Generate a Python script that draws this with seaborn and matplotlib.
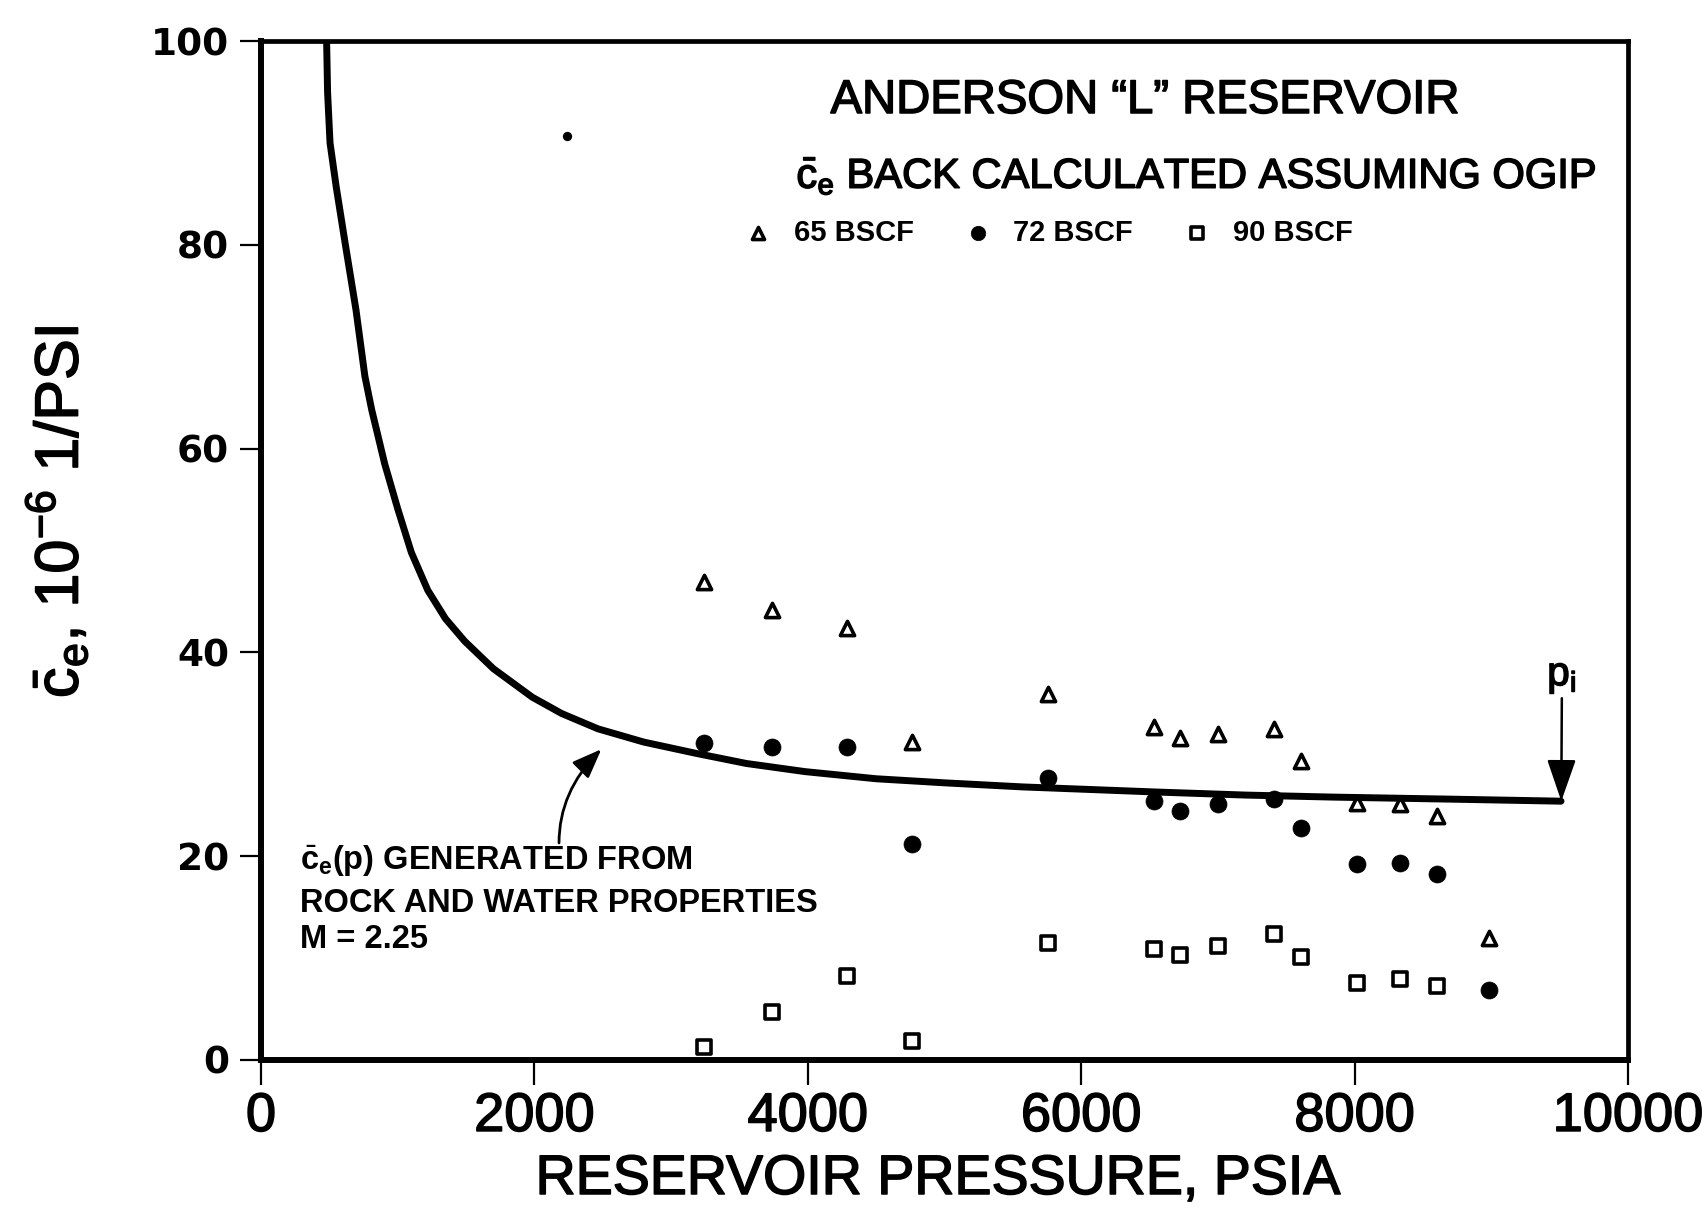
import numpy as np
import pandas as pd
import matplotlib
matplotlib.use("Agg")
import matplotlib.pyplot as plt
import matplotlib.patheffects as pe
import seaborn as sns

# ---------------- data ----------------
pressure = [3240, 3740, 4290, 4760, 5760, 6535, 6720, 7000, 7410, 7605, 8015, 8335, 8600, 8980]
ce_65 = [46.9, 44.2, 42.4, 31.2, 35.9, 32.7, 31.6, 32.0, 32.5, 29.3, 25.2, 25.1, 23.9, 12.0]
ce_72 = [31.1, 30.7, 30.7, 21.2, 27.7, 25.4, 24.4, 25.1, 25.6, 22.8, 19.2, 19.3, 18.3, 6.9]
pressure_90 = [3240, 3740, 4290, 4760, 5760, 6535, 6720, 7000, 7410, 7605, 8015, 8335, 8600]
ce_90 = [1.3, 4.7, 8.2, 1.9, 11.5, 10.9, 10.3, 11.2, 12.4, 10.1, 7.6, 7.9, 7.3]

curve_p = [480, 487, 505, 550, 615, 695, 760, 810, 905, 1000, 1100, 1220, 1350,
           1490, 1700, 1985, 2200, 2465, 2800, 3180, 3550, 3980, 4500, 5000,
           5570, 6545, 7200, 7840, 8700, 9510]
curve_ce = [100, 95.0, 90.0, 85.7, 80.2, 73.6, 67.1, 63.8, 58.5, 54.1, 49.8, 46.1, 43.3,
            41.1, 38.4, 35.6, 34.0, 32.5, 31.2, 30.1, 29.1, 28.3, 27.6, 27.2,
            26.8, 26.3, 26.0, 25.8, 25.6, 25.4]

stray_p = [2240]
stray_ce = [90.7]

series_labels = ["65 BSCF", "72 BSCF", "90 BSCF"]
x_ticks = [0, 2000, 4000, 6000, 8000, 10000]
y_ticks = [0, 20, 40, 60, 80, 100]

# ---------------- style ----------------
sns.set_theme(style="ticks")
plt.rcParams["font.family"] = ["Liberation Sans", "DejaVu Sans"]
plt.rcParams["text.color"] = "black"
plt.rcParams["axes.labelcolor"] = "black"
plt.rcParams["mathtext.fontset"] = "custom"
plt.rcParams["mathtext.rm"] = "Liberation Sans"
plt.rcParams["mathtext.it"] = "Liberation Sans:italic"
plt.rcParams["mathtext.bf"] = "Liberation Sans:bold"

heavy = [pe.withStroke(linewidth=1.1, foreground="black")]

fig = plt.figure(figsize=(17.02, 12.19), dpi=100)
fig.patch.set_facecolor("white")
W, H = 1702.0, 1219.0
ax = fig.add_axes([261 / W, 1 - 1060 / H, (1628 - 261) / W, (1060 - 41) / H])
ax.set_facecolor("white")

# curve
sns.lineplot(x=curve_p, y=curve_ce, sort=False, estimator=None, color="black",
             linewidth=5, ax=ax, zorder=4)

# data series
sns.scatterplot(x=pressure, y=ce_65, marker="^", s=105, facecolor="white",
                edgecolor="black", linewidth=2.6, label=series_labels[0], ax=ax, zorder=3)
sns.scatterplot(x=pressure, y=ce_72, marker="o", s=150, color="black",
                edgecolor="black", linewidth=0.5, label=series_labels[1], ax=ax, zorder=3)
sns.scatterplot(x=pressure_90, y=ce_90, marker="s", s=100, facecolor="white",
                edgecolor="black", linewidth=2.6, label=series_labels[2], ax=ax, zorder=3)
sns.scatterplot(x=stray_p, y=stray_ce, marker="o", s=45, color="black",
                edgecolor="black", linewidth=0, ax=ax, zorder=3, legend=False)

ax.set_xlim(0, 10000)
ax.set_ylim(0, 100)
ax.set_xticks(x_ticks)
ax.set_yticks(y_ticks)
ax.set_xticklabels([str(v) for v in x_ticks])
ax.set_yticklabels([str(v) for v in y_ticks])
ax.set_xlabel("")
ax.set_ylabel("")

for side in ["left", "right", "top", "bottom"]:
    ax.spines[side].set_visible(True)
    ax.spines[side].set_color("black")
ax.spines["left"].set_linewidth(4.3)
ax.spines["bottom"].set_linewidth(4.3)
ax.spines["top"].set_linewidth(3.4)
ax.spines["right"].set_linewidth(3.4)

ax.tick_params(axis="x", direction="out", length=18, width=1.6, pad=5,
               labelsize=39, colors="black")
ax.tick_params(axis="y", direction="out", length=15, width=1.6, pad=8,
               labelsize=27, colors="black")
for lab in ax.get_yticklabels():
    lab.set_fontfamily("DejaVu Sans")
    lab.set_fontweight("bold")
for lab in ax.get_xticklabels():
    lab.set_path_effects(heavy)

# axis labels
fig.text(937 / W, 1 - 1180 / H, "RESERVOIR PRESSURE, PSIA", ha="center",
         va="center", fontsize=40, color="black", path_effects=heavy)
fig.text(58 / W, 1 - 512 / H,
         r"$\bar{\mathrm{c}}_{\mathrm{e}}$, 10$^{\mathrm{-6}}$ 1/PSI",
         rotation=90, ha="center", va="center", fontsize=44, color="black",
         path_effects=heavy)

# title block
fig.text(1145 / W, 1 - 101 / H, "ANDERSON \u201cL\u201d RESERVOIR", ha="center",
         va="center", fontsize=34, color="black", path_effects=heavy)
fig.text(1196 / W, 1 - 176 / H,
         r"$\bar{\mathrm{c}}_{\mathrm{e}}$ BACK CALCULATED ASSUMING OGIP",
         ha="center", va="center", fontsize=30, color="black", path_effects=heavy)

# legend
handles, labels = ax.get_legend_handles_labels()
leg = ax.legend(handles, labels, loc="center", bbox_to_anchor=(1048 / W, 1 - 233 / H),
                bbox_transform=fig.transFigure, ncol=3, frameon=False,
                markerscale=0.85, handlelength=1.0, handletextpad=0.72,
                columnspacing=1.7, labelcolor="black",
                prop={"family": "Liberation Sans", "weight": "bold", "size": 21})

# annotation text
fig.text(300 / W, 1 - 861 / H,
         r"$\bar{\mathbf{c}}_{\mathbf{e}}$(p) GENERATED FROM",
         ha="left", va="center", fontsize=23.5, fontweight="bold", color="black")
fig.text(300 / W, 1 - 903 / H, "ROCK AND WATER PROPERTIES",
         ha="left", va="center", fontsize=23.5, fontweight="bold", color="black")
fig.text(300 / W, 1 - 939 / H, "M = 2.25",
         ha="left", va="center", fontsize=23.5, fontweight="bold", color="black")

ax.annotate("", xy=(2490, 30.5), xytext=(2180, 21.3),
            arrowprops=dict(arrowstyle="-|>,head_length=0.9,head_width=0.35",
                            mutation_scale=20, color="black", lw=2,
                            connectionstyle="angle3,angleA=90,angleB=45",
                            shrinkA=0, shrinkB=0), zorder=5)

# p_i arrow
ax.annotate("", xy=(9512, 25.4), xytext=(9516, 35.5),
            arrowprops=dict(arrowstyle="-|>,head_length=1.3,head_width=0.45",
                            mutation_scale=20, color="black", lw=1.8,
                            shrinkA=0, shrinkB=0), zorder=5)
ax.text(9516, 35.8, r"p$_{\mathrm{i}}$", ha="center", va="bottom", fontsize=29,
        color="black", path_effects=heavy)

fig.savefig("out.png", dpi=100, facecolor="white")
